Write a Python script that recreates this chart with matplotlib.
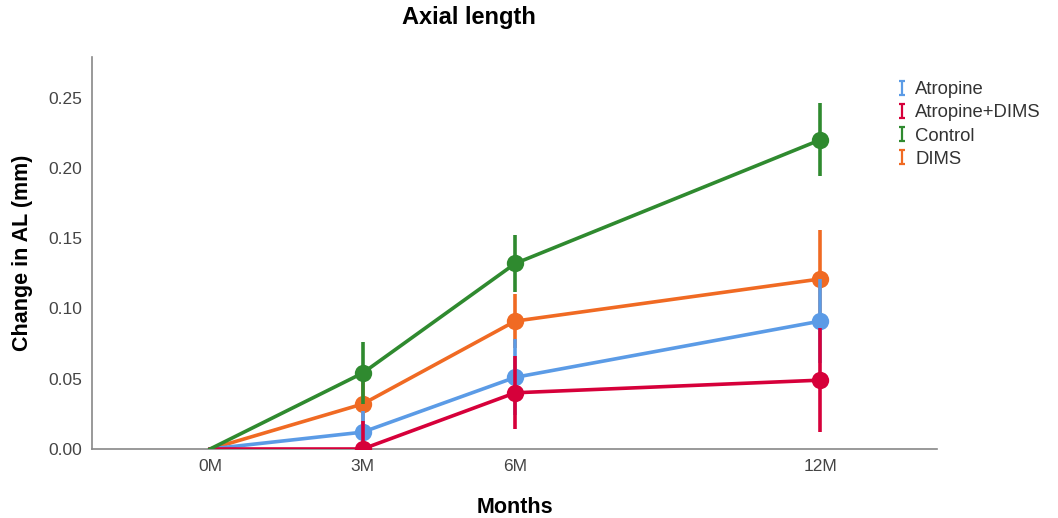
import matplotlib
matplotlib.use("Agg")
import matplotlib.pyplot as plt
from matplotlib.lines import Line2D
from matplotlib.path import Path

plt.rcParams['font.family'] = ['Liberation Sans', 'DejaVu Sans']

months = [0, 3, 6, 12]
tick_labels = ["0M", "3M", "6M", "12M"]

groups = ["Atropine", "Atropine+DIMS", "Control", "DIMS"]
colors = {"Atropine": "#5B9BE6", "Atropine+DIMS": "#D6003A",
          "Control": "#2F8A2F", "DIMS": "#F06A23"}

atropine = [0.0, 0.012, 0.051, 0.091]
atropine_err = [0.0, 0.015, 0.027, 0.030]
atropine_dims = [0.0, 0.0, 0.040, 0.049]
atropine_dims_err = [0.0, 0.020, 0.026, 0.037]
control = [0.0, 0.054, 0.132, 0.220]
control_err = [0.0, 0.022, 0.020, 0.026]
dims = [0.0, 0.032, 0.091, 0.121]
dims_err = [0.0, 0.020, 0.019, 0.035]

series = {"Atropine": (atropine, atropine_err),
          "Atropine+DIMS": (atropine_dims, atropine_dims_err),
          "Control": (control, control_err),
          "DIMS": (dims, dims_err)}
zorders = {"DIMS": 3, "Atropine": 4, "Atropine+DIMS": 5, "Control": 6}

fig = plt.figure(figsize=(10.58, 5.18), dpi=100)
ax = fig.add_axes([0.087, 0.1332, 0.799, 0.757])

for g in groups:
    vals, errs = series[g]
    c = colors[g]
    z = zorders[g]
    ax.errorbar(months[1:], vals[1:], yerr=errs[1:], fmt='none', ecolor=c,
                elinewidth=2.6, capsize=0, zorder=z)
    ax.plot(months, vals, color=c, lw=2.6, zorder=z + 0.1)
    ax.plot(months[1:], vals[1:], 'o', color=c, markersize=12.5,
            markeredgewidth=0, zorder=z + 0.2)

ax.set_xlim(-2.32, 14.3)
ax.set_ylim(0, 0.279)
ax.set_xticks(months)
ax.set_xticklabels(tick_labels)
ax.set_yticks([0, 0.05, 0.10, 0.15, 0.20, 0.25])
ax.set_yticklabels(["0.00", "0.05", "0.10", "0.15", "0.20", "0.25"])
ax.tick_params(length=0, labelsize=12.5, labelcolor="#444444", pad=7)
for s in ["top", "right"]:
    ax.spines[s].set_visible(False)
for s in ["left", "bottom"]:
    ax.spines[s].set_color("#888888")
    ax.spines[s].set_linewidth(1.2)

ax.set_xlabel("Months", fontsize=15.5, fontweight="bold", labelpad=17)
ax.set_ylabel("Change in AL (mm)", fontsize=15.5, fontweight="bold", labelpad=11)
fig.text(0.443, 0.967, "Axial length", fontsize=17, fontweight="bold",
         ha="center", va="center")

ibar = Path([(-0.45, -1), (0.45, -1), (0, -1), (0, 1), (-0.45, 1), (0.45, 1)],
            [Path.MOVETO, Path.LINETO, Path.MOVETO, Path.LINETO,
             Path.MOVETO, Path.LINETO])
handles = [Line2D([0], [0], color=colors[g], marker=ibar, linestyle='None',
                  markersize=10, markeredgewidth=1.6, markerfacecolor='none')
           for g in groups]
fig.legend(handles, groups, loc="upper left", bbox_to_anchor=(0.831, 0.875),
           frameon=False, fontsize=13.3, handlelength=0.7, handletextpad=0.35,
           labelspacing=0.33, labelcolor="#333333")

fig.savefig("out.png", dpi=100)
